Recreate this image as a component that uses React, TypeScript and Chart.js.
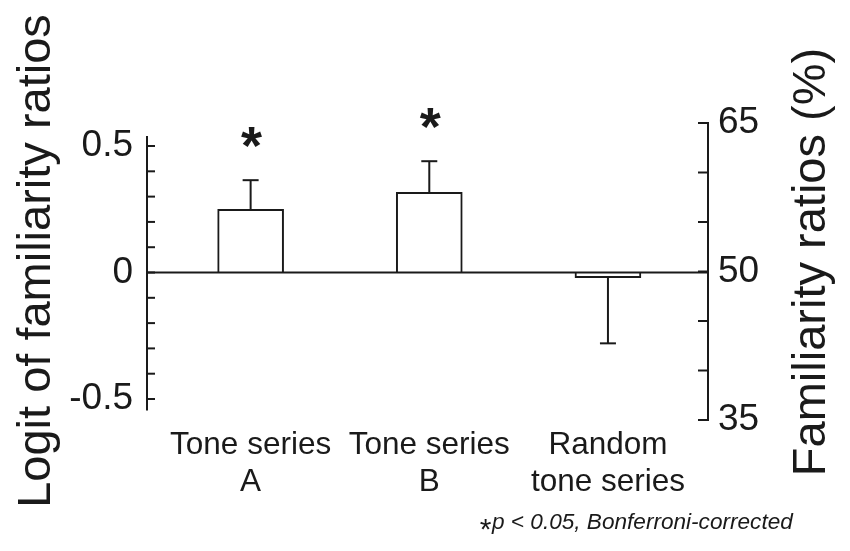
import React, { useEffect, useRef } from "react";
import { Chart, registerables } from "chart.js";

Chart.register(...registerables);

// ---- data ----
const categories: string[][] = [
  ["Tone series", "A"],
  ["Tone series", "B"],
  ["Random", "tone series"],
];
const positions = [1, 2, 3];
const logitMeans = [0.25, 0.317, -0.02];
const logitErrors = [0.115, 0.123, 0.26];
const significant = [true, true, false];

const leftTickValues = [-0.5, 0, 0.5];
const leftTickLabels = ["-0.5", "0", "0.5"];
const leftMinorTicks = [-0.5, -0.4, -0.3, -0.2, -0.1, 0, 0.1, 0.2, 0.3, 0.4, 0.5];
const rightTickValues = [35, 50, 65];
const rightTickLabels = ["35", "50", "65"];
const rightMinorTicks = [35, 40, 45, 50, 55, 60, 65];

const leftTitle = "Logit of familiarity ratios";
const rightTitle = "Familiarity ratios (%)";
const footnoteMark = "*";
const footnoteText = "p < 0.05, Bonferroni-corrected";

// ---- style ----
const INK = "#1a1a1a";
const FONT = "'Liberation Sans', Arial, Helvetica, sans-serif";

function line(ctx: CanvasRenderingContext2D, x1: number, y1: number, x2: number, y2: number) {
  ctx.beginPath();
  ctx.moveTo(x1, y1);
  ctx.lineTo(x2, y2);
  ctx.stroke();
}

function drawCentered(ctx: CanvasRenderingContext2D, text: string, cx: number, cy: number) {
  const m = ctx.measureText(text);
  const w = m.actualBoundingBoxRight + m.actualBoundingBoxLeft;
  const h = m.actualBoundingBoxAscent + m.actualBoundingBoxDescent;
  const x = cx - w / 2 + m.actualBoundingBoxLeft;
  const y = cy - h / 2 + m.actualBoundingBoxAscent;
  ctx.textAlign = "left";
  ctx.textBaseline = "alphabetic";
  ctx.fillText(text, x, y);
}

const overlayPlugin = {
  id: "overlay",
  afterDatasetsDraw(chart: any) {
    const ctx: CanvasRenderingContext2D = chart.ctx;
    const xs = chart.scales.x;
    const ys = chart.scales.y;
    const y2s = chart.scales.y2;
    const area = chart.chartArea;
    ctx.save();
    ctx.strokeStyle = INK;
    ctx.fillStyle = INK;
    ctx.lineWidth = 2;
    ctx.lineCap = "butt";

    // zero line
    const y0 = ys.getPixelForValue(0);
    line(ctx, area.left, y0, area.right, y0);

    // left axis with inward ticks
    const la = area.left;
    line(ctx, la, ys.getPixelForValue(0.54), la, ys.getPixelForValue(-0.545));
    leftMinorTicks.forEach((v) => {
      const py = ys.getPixelForValue(v);
      line(ctx, la, py, la + 8, py);
    });

    // right axis with inward ticks
    const ra = area.right;
    line(ctx, ra, y2s.getPixelForValue(65) - 1, ra, y2s.getPixelForValue(35) + 1);
    rightMinorTicks.forEach((v) => {
      const py = y2s.getPixelForValue(v);
      line(ctx, ra - 10, py, ra, py);
    });

    // error bars + significance marks
    positions.forEach((p, i) => {
      const cx = xs.getPixelForValue(p);
      const m = logitMeans[i];
      const e = logitErrors[i] * Math.sign(m);
      const pyMean = ys.getPixelForValue(m);
      const pyEnd = ys.getPixelForValue(m + e);
      line(ctx, cx, pyMean, cx, pyEnd);
      line(ctx, cx - 8, pyEnd, cx + 8, pyEnd);
      if (significant[i]) {
        ctx.font = `bold 54px ${FONT}`;
        drawCentered(ctx, "*", cx + 1, pyEnd - 43);
      }
    });

    // axis titles (both read bottom to top)
    ctx.font = `47px ${FONT}`;
    ctx.textAlign = "center";
    ctx.textBaseline = "alphabetic";
    ctx.save();
    ctx.translate(50, 261);
    ctx.rotate(-Math.PI / 2);
    ctx.fillText(leftTitle, 0, 0);
    ctx.restore();
    ctx.save();
    ctx.translate(825, 262);
    ctx.rotate(-Math.PI / 2);
    ctx.fillText(rightTitle, 0, 0);
    ctx.restore();

    // footnote
    ctx.font = `30px ${FONT}`;
    drawCentered(ctx, footnoteMark, 480, 524);
    ctx.font = `italic 22.6px ${FONT}`;
    ctx.textAlign = "left";
    ctx.textBaseline = "alphabetic";
    ctx.fillText(footnoteText, 492, 529);

    ctx.restore();
  },
};

export default function App() {
  const canvasRef = useRef<HTMLCanvasElement | null>(null);

  useEffect(() => {
    if (!canvasRef.current) return;
    Chart.defaults.font.family = FONT;
    const chart = new Chart(canvasRef.current, {
      type: "bar",
      data: {
        datasets: [
          {
            data: positions.map((p, i) => ({ x: p, y: logitMeans[i] })),
            backgroundColor: "#ffffff",
            borderColor: INK,
            borderWidth: 2,
            borderSkipped: "start",
            barThickness: 66,
            xAxisID: "x",
            yAxisID: "y",
          } as any,
        ],
      },
      options: {
        animation: false,
        responsive: true,
        maintainAspectRatio: false,
        layout: { padding: { top: 123, left: 0, right: 0, bottom: 0 } },
        plugins: {
          legend: { display: false },
          tooltip: { enabled: false },
        },
        scales: {
          x: {
            type: "linear",
            min: 0.42,
            max: 3.56,
            offset: false,
            grid: { display: false, drawTicks: false },
            border: { display: false },
            afterBuildTicks: (s: any) => {
              s.ticks = positions.map((v) => ({ value: v }));
            },
            afterFit: (s: any) => {
              s.height = 131;
            },
            ticks: {
              autoSkip: false,
              maxRotation: 0,
              color: INK,
              padding: 7,
              font: { size: 31.5, lineHeight: 1.17 },
              callback: (v: any) => categories[positions.indexOf(Number(v))],
            },
          },
          y: {
            type: "linear",
            position: "left",
            min: -0.583,
            max: 0.591,
            grid: { display: false, drawTicks: false },
            border: { display: false },
            afterBuildTicks: (s: any) => {
              s.ticks = leftTickValues.map((v) => ({ value: v }));
            },
            afterFit: (s: any) => {
              s.width = 147;
            },
            ticks: {
              autoSkip: false,
              color: INK,
              padding: 14,
              font: { size: 37 },
              callback: (_v: any, i: number) => leftTickLabels[i],
            },
          },
          y2: {
            type: "linear",
            position: "right",
            min: 35,
            max: 65,
            grid: { display: false, drawTicks: false },
            border: { display: false },
            afterBuildTicks: (s: any) => {
              s.ticks = rightTickValues.map((v) => ({ value: v }));
            },
            afterFit: (s: any) => {
              s.width = 142;
            },
            ticks: {
              autoSkip: false,
              color: INK,
              padding: 10,
              font: { size: 37 },
              callback: (_v: any, i: number) => rightTickLabels[i],
            },
          },
        },
      } as any,
      plugins: [overlayPlugin],
    });
    return () => chart.destroy();
  }, []);

  return (
    <div style={{ position: "absolute", left: 0, top: 0, width: 850, height: 551, background: "#fff" }}>
      <canvas ref={canvasRef} />
    </div>
  );
}
